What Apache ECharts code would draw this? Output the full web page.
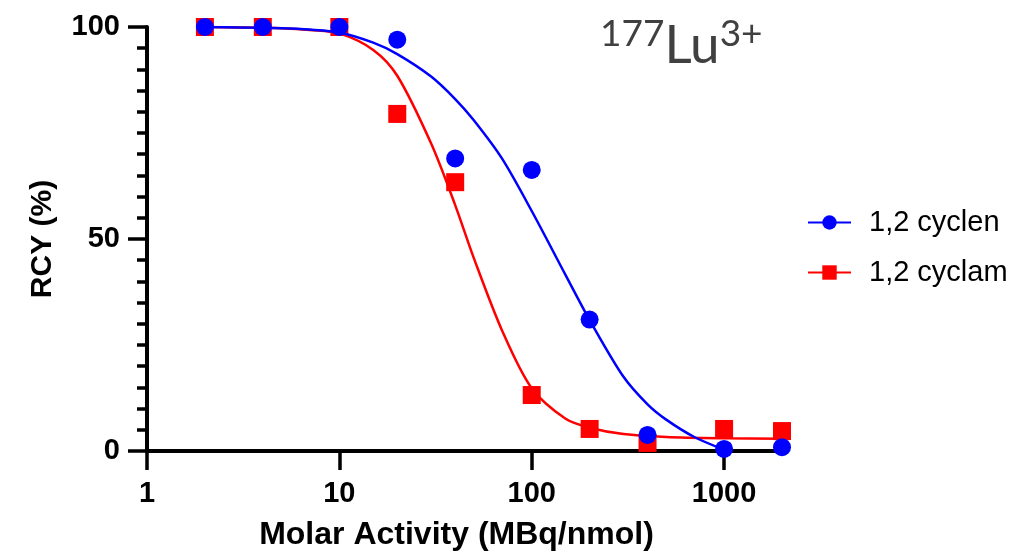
<!DOCTYPE html>
<html>
<head>
<meta charset="utf-8">
<script src="https://cdn.jsdelivr.net/npm/echarts@6/dist/echarts.min.js"></script>
<style>
html,body{margin:0;padding:0;background:#fff;}
#chart{width:1018px;height:559px;}
</style>
</head>
<body>
<div id="chart"></div>
<script>
// Measured data points
var xPoints = [2, 4, 10, 20, 40, 100, 200, 400, 1000, 2000];
var cyclenValues = [100, 100, 100, 97, 69, 66.3, 31, 3.8, 0.5, 0.9];
var cyclamValues = [100, 100, 100, 79.5, 63.4, 13.2, 5.2, 1.9, 5.2, 4.7];

// Fitted curves
var cyclenCurveX = [2, 3, 5, 7, 10, 15, 20, 30, 40, 50, 70, 100, 150, 200, 300, 400, 500, 700, 1000];
var cyclenCurveY = [100, 99.9, 99.7, 99.4, 98.7, 96.3, 93.6, 88.3, 83, 78, 69, 56.6, 41.5, 30.9, 17.5, 11, 7.4, 3.3, 0.3];
var cyclamCurveX = [2, 3, 5, 7, 10, 15, 20, 30, 40, 50, 70, 100, 150, 200, 300, 500, 1000, 2000];
var cyclamCurveY = [100, 99.9, 99.7, 99.3, 98.5, 94.6, 88.5, 72.5, 58, 45.5, 28.5, 14.8, 7.6, 5.5, 4.0, 3.3, 3.0, 2.9];

var seriesNames = ['1,2 cyclen', '1,2 cyclam'];
var yTicks = [0, 50, 100];
var xRange = [1, 2000];
var titleParts = ['177', 'Lu', '3+'];

function pairs(xs, ys) { return xs.map(function (x, i) { return [x, ys[i]]; }); }

var BLUE = '#0000FF', RED = '#FF0000';
var FONT = 'Liberation Sans, Arial, sans-serif';

var chart = echarts.init(document.getElementById('chart'), null, {renderer: 'canvas'});
chart.setOption({
  animation: false,
  backgroundColor: '#ffffff',
  grid: {left: 147, right: 236, top: 27, bottom: 108, containLabel: false},
  legend: {
    data: seriesNames,
    orient: 'vertical',
    left: 802,
    top: 203,
    itemWidth: 43,
    itemHeight: 18,
    itemGap: 21,
    textStyle: {fontFamily: FONT, fontSize: 29, color: '#000', padding: [0, 0, 0, 13]}
  },
  graphic: [{
    type: 'text',
    left: 600,
    top: 16,
    style: {
      text: '{sup|' + titleParts[0] + '}{lu|' + titleParts[1] + '}{sup|' + titleParts[2] + '}',
      rich: {
        sup: {fontFamily: 'Lato, Open Sans, sans-serif', fontSize: 37, fill: '#404040', verticalAlign: 'top', lineHeight: 40},
        lu: {fontFamily: 'Lato, Open Sans, sans-serif', fontSize: 53, fill: '#404040', verticalAlign: 'bottom', lineHeight: 56}
      }
    }
  }],
  xAxis: {
    type: 'log',
    logBase: 10,
    min: xRange[0],
    max: xRange[1],
    name: 'Molar Activity (MBq/nmol)',
    nameLocation: 'middle',
    nameGap: 68,
    nameTextStyle: {fontFamily: FONT, fontSize: 32, fontWeight: 'bold', color: '#000', padding: [0, 16, 0, 0]},
    axisLine: {show: true, lineStyle: {color: '#000', width: 4}},
    axisTick: {show: true, length: 19, lineStyle: {color: '#000', width: 3.5}},
    minorTick: {show: false},
    splitLine: {show: false},
    axisLabel: {fontFamily: FONT, fontSize: 29, fontWeight: 'bold', color: '#000', margin: 28, showMaxLabel: false,
      formatter: function (v) { return String(Math.round(v)); }}
  },
  yAxis: {
    type: 'value',
    min: yTicks[0],
    max: yTicks[yTicks.length - 1],
    interval: yTicks[1] - yTicks[0],
    name: 'RCY (%)',
    nameLocation: 'middle',
    nameGap: 89,
    nameRotate: 90,
    nameTextStyle: {fontFamily: FONT, fontSize: 30, fontWeight: 'bold', color: '#000'},
    axisLine: {show: true, lineStyle: {color: '#000', width: 4}},
    axisTick: {show: true, length: 19, lineStyle: {color: '#000', width: 3.5}},
    minorTick: {show: true, splitNumber: 10, length: 10, lineStyle: {color: '#000', width: 3.5}},
    splitLine: {show: false},
    axisLabel: {fontFamily: FONT, fontSize: 29, fontWeight: 'bold', color: '#000', margin: 27}
  },
  series: [
    {
      name: seriesNames[1], type: 'line', data: pairs(cyclamCurveX, cyclamCurveY),
      smooth: 0.3, showSymbol: false, symbol: 'rect', symbolSize: 16,
      itemStyle: {color: RED}, lineStyle: {color: RED, width: 2.5}, z: 3
    },
    {
      name: seriesNames[1], type: 'scatter', data: pairs(xPoints, cyclamValues),
      symbol: 'rect', symbolSize: 18, itemStyle: {color: RED, opacity: 1}, z: 4
    },
    {
      name: seriesNames[0], type: 'line', data: pairs(cyclenCurveX, cyclenCurveY),
      smooth: 0.3, showSymbol: false, symbol: 'circle', symbolSize: 16,
      itemStyle: {color: BLUE}, lineStyle: {color: BLUE, width: 2.5}, z: 5
    },
    {
      name: seriesNames[0], type: 'scatter', data: pairs(xPoints, cyclenValues),
      symbol: 'circle', symbolSize: 18, itemStyle: {color: BLUE, opacity: 1}, z: 6
    }
  ]
});
</script>
</body>
</html>
